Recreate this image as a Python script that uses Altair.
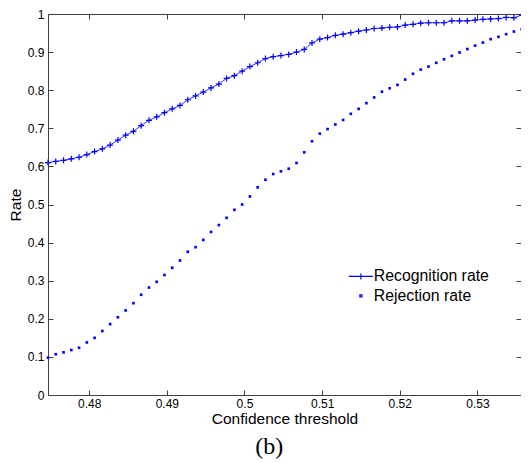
import altair as alt
import pandas as pd

# ---- data -------------------------------------------------------------------
threshold = [
    0.4747, 0.4757, 0.4767, 0.4777, 0.4787, 0.4797, 0.4807, 0.4817, 0.4827, 0.4837,
    0.4847, 0.4857, 0.4867, 0.4877, 0.4887, 0.4897, 0.4907, 0.4917, 0.4927, 0.4937,
    0.4947, 0.4957, 0.4967, 0.4977, 0.4987, 0.4997, 0.5007, 0.5017, 0.5027, 0.5037,
    0.5047, 0.5057, 0.5067, 0.5077, 0.5087, 0.5097, 0.5107, 0.5117, 0.5127, 0.5137,
    0.5147, 0.5157, 0.5167, 0.5177, 0.5187, 0.5197, 0.5207, 0.5217, 0.5227, 0.5237,
    0.5247, 0.5257, 0.5267, 0.5277, 0.5287, 0.5297, 0.5307, 0.5317, 0.5327, 0.5337,
    0.5347, 0.5357, 0.5367,
]
recognition = [
    0.610, 0.613, 0.616, 0.620, 0.624, 0.631, 0.639, 0.646, 0.656, 0.669,
    0.682, 0.692, 0.707, 0.721, 0.730, 0.741, 0.751, 0.760, 0.775, 0.785,
    0.795, 0.806, 0.816, 0.831, 0.838, 0.850, 0.862, 0.872, 0.883, 0.888,
    0.891, 0.894, 0.900, 0.907, 0.924, 0.934, 0.938, 0.944, 0.947, 0.951,
    0.955, 0.958, 0.962, 0.963, 0.965, 0.966, 0.971, 0.973, 0.976, 0.977,
    0.977, 0.977, 0.982, 0.982, 0.982, 0.984, 0.986, 0.987, 0.988, 0.991,
    0.990, 0.997, 1.000,
]
rejection = [
    0.098, 0.107, 0.112, 0.118, 0.124, 0.138, 0.150, 0.168, 0.186, 0.204,
    0.222, 0.241, 0.263, 0.282, 0.297, 0.315, 0.334, 0.353, 0.376, 0.388,
    0.407, 0.428, 0.446, 0.465, 0.486, 0.500, 0.521, 0.545, 0.565, 0.580,
    0.587, 0.594, 0.609, 0.637, 0.666, 0.686, 0.698, 0.710, 0.722, 0.738,
    0.751, 0.766, 0.781, 0.796, 0.805, 0.814, 0.828, 0.843, 0.854, 0.862,
    0.872, 0.881, 0.890, 0.899, 0.908, 0.917, 0.925, 0.934, 0.940, 0.947,
    0.954, 0.960, 0.962,
]
series_names = ["Recognition rate", "Rejection rate"]
x_ticks = [0.48, 0.49, 0.50, 0.51, 0.52, 0.53]
y_ticks = [0, 0.1, 0.2, 0.3, 0.4, 0.5, 0.6, 0.7, 0.8, 0.9, 1.0]
x_domain = [0.4747, 0.53561]
y_domain = [0, 1]

df = pd.DataFrame({"threshold": threshold,
                   "Recognition rate": recognition,
                   "Rejection rate": rejection})
long = df.melt("threshold", var_name="series", value_name="rate")

# ---- styling ----------------------------------------------------------------
W, H = 473, 381
BLUE = "#0000ff"
AXC = "#404040"
FONT = "Liberation Sans"
PLUS = "M-1,0L1,0M0,-1L0,1"
LEG_PLUS = "M-2,0L2,0M0,-0.5L0,0.5"
LEG_DOT = "M-0.17,-0.17L0.17,-0.17L0.17,0.17L-0.17,0.17Z"

xscale = alt.Scale(domain=x_domain, nice=False, zero=False)
yscale = alt.Scale(domain=y_domain, nice=False, zero=False)


def ax(values, **kw):
    base = dict(values=values, grid=False, labels=False, ticks=False, domain=False,
                title=None, tickColor=AXC, tickSize=5, tickWidth=1,
                domainColor=AXC, domainWidth=1)
    base.update(kw)
    return alt.Axis(**base)


label_style = dict(labels=True, format="~g", labelFont=FONT, labelFontSize=12,
                   labelColor="black", titleFont=FONT, titleFontSize=15.5,
                   titleColor="black", titleFontWeight="normal")

base = alt.Chart(long)

# layer 1: recognition line, main axes with labels and titles
line = base.transform_filter(alt.datum.series == "Recognition rate").mark_line(
    color=BLUE, strokeWidth=0.8
).encode(
    x=alt.X("threshold:Q", scale=xscale,
            axis=ax(x_ticks, orient="bottom", domain=True, title="Confidence threshold",
                    labelPadding=3, titlePadding=2, **label_style)),
    y=alt.Y("rate:Q", scale=yscale,
            axis=ax(y_ticks, orient="left", domain=True, title="Rate", labelPadding=4,
                    titlePadding=4, **label_style)),
)

# layer 2: plus markers; inward ticks on bottom and left edges
plus = base.transform_filter(alt.datum.series == "Recognition rate").mark_point(
    shape=PLUS, size=36, filled=False, strokeWidth=1.2, color=BLUE, opacity=1
).encode(
    x=alt.X("threshold:Q", scale=xscale, axis=ax(x_ticks, orient="top", offset=-H, ticks=True)),
    y=alt.Y("rate:Q", scale=yscale, axis=ax(y_ticks, orient="right", offset=-W, ticks=True)),
)

# layer 3: rejection dots; inward ticks on top and right edges
dots = base.transform_filter(alt.datum.series == "Rejection rate").mark_square(
    size=7, color=BLUE, opacity=1
).encode(
    x=alt.X("threshold:Q", scale=xscale, axis=ax(x_ticks, orient="bottom", offset=-H, ticks=True)),
    y=alt.Y("rate:Q", scale=yscale, axis=ax(y_ticks, orient="left", offset=-W, ticks=True)),
)

# layer 4: legend only (no marks drawn) + top frame line
legend_layer = base.transform_filter("false").mark_point(
    filled=False, color=BLUE, opacity=1
).encode(
    x=alt.X("threshold:Q", scale=xscale, axis=ax(x_ticks, orient="top", domain=True)),
    y=alt.Y("rate:Q", scale=yscale, axis=None),
    shape=alt.Shape("series:N",
                    scale=alt.Scale(domain=series_names, range=[LEG_PLUS, LEG_DOT]),
                    legend=alt.Legend(orient="none", legendX=305, legendY=254.5,
                                      title=None, padding=0, labelFont=FONT,
                                      labelFontSize=15.8, labelColor="black",
                                      labelOffset=5, rowPadding=2.5,
                                      symbolSize=144, symbolStrokeWidth=1.2,
                                      symbolStrokeColor=BLUE, symbolOpacity=1)),
)

chart = alt.layer(line, plus, dots, legend_layer).resolve_axis(
    x="independent", y="independent"
).properties(
    width=W, height=H,
    autosize=alt.AutoSizeParams(type="none"),
    padding={"left": 40, "top": 6, "right": 0, "bottom": 67},
    title=alt.TitleParams(text="(b)", orient="bottom", anchor="middle", frame="group",
                          font="Liberation Serif", fontSize=24, fontWeight="normal",
                          color="black", offset=8, dx=-15.3),
    background="white",
).configure_view(stroke=None)

chart.save("out.html", embed_options={"renderer": "svg", "actions": False})
